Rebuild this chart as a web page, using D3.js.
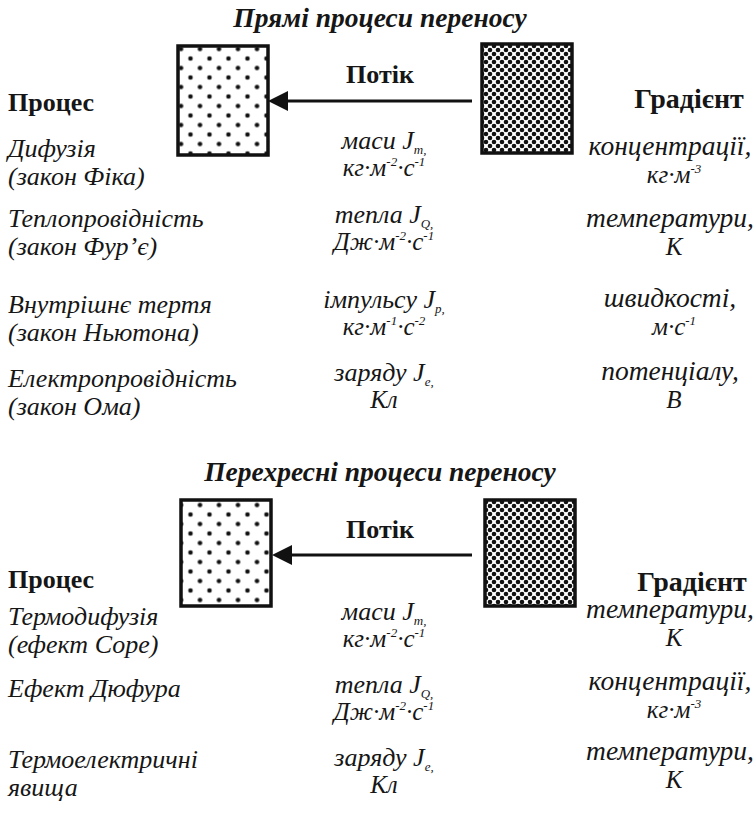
<!DOCTYPE html>
<html><head><meta charset="utf-8">
<script src="https://cdn.jsdelivr.net/npm/d3@7"></script>
<style>
html,body{margin:0;padding:0;background:#fff;}
svg{display:block;}
</style></head>
<body>
<script>
// ---------- DATA ----------
const sectionTitles = ["Прямі процеси переносу", "Перехресні процеси переносу"];
const headerProcess = "Процес";
const headerFlux = "Потік";
const headerGradient = "Градієнт";

// direct transfer processes
const directProcessLine1 = ["Дифузія", "Теплопровідність", "Внутрішнє тертя", "Електропровідність"];
const directProcessLine2 = ["(закон Фіка)", "(закон Фур’є)", "(закон Ньютона)", "(закон Ома)"];
const directFluxWord = ["маси", "тепла", "імпульсу", "заряду"];
const directFluxSub = ["m,", "Q,", "p,", "e,"];
const directFluxUnit = ["кг·м^-2·с^-1", "Дж·м^-2·с^-1", "кг·м^-1·с^-2", "Кл"];
const directGradWord = ["концентрації,", "температури,", "швидкості,", "потенціалу,"];
const directGradUnit = ["кг·м^-3", "К", "м·с^-1", "В"];

// cross transfer processes
const crossProcessLine1 = ["Термодифузія", "Ефект Дюфура", "Термоелектричні"];
const crossProcessLine2 = ["(ефект Соре)", "", "явища"];
const crossFluxWord = ["маси", "тепла", "заряду"];
const crossFluxSub = ["m,", "Q,", "e,"];
const crossFluxUnit = ["кг·м^-2·с^-1", "Дж·м^-2·с^-1", "Кл"];
const crossGradWord = ["температури,", "концентрації,", "температури,"];
const crossGradUnit = ["К", "кг·м^-3", "К"];

// ---------- LAYOUT ----------
const W = 756, H = 816;
const INK = "#161616";
const svg = d3.select("body").append("svg").attr("width", W).attr("height", H)
  .attr("font-family", "Liberation Serif").attr("fill", INK);

const defs = svg.append("defs");
// sparse (low concentration) dot pattern
const pSparse = defs.append("pattern").attr("id", "sparse").attr("patternUnits", "userSpaceOnUse")
  .attr("width", 19).attr("height", 19).attr("x", 0.5).attr("y", 1.5);
[[0, 0], [9.5, 9.5], [19, 0], [0, 19], [19, 19]].forEach(([x, y]) =>
  pSparse.append("circle").attr("cx", x).attr("cy", y).attr("r", 2.3).attr("fill", "#111"));
// dense (high concentration) dot pattern
const pDense = defs.append("pattern").attr("id", "dense").attr("patternUnits", "userSpaceOnUse")
  .attr("width", 8).attr("height", 8).attr("x", 2).attr("y", 2);
[[0, 0], [4, 4], [8, 0], [0, 8], [8, 8]].forEach(([x, y]) =>
  pDense.append("circle").attr("cx", x).attr("cy", y).attr("r", 2.3).attr("fill", "#111"));

function rich(sel, str, size, supSize) {
  const parts = str.split(/(\^-?\d+)/).filter(s => s.length);
  let raised = false;
  parts.forEach(p => {
    if (p[0] === "^") {
      sel.append("tspan").attr("font-size", supSize).attr("dy", -10).text(p.slice(1));
      raised = true;
    } else {
      const t = sel.append("tspan").attr("font-size", size).text(p);
      if (raised) { t.attr("dy", 10); raised = false; }
    }
  });
}

const xLeft = 8, xMid = 384, xRight = 670;
const fsLeft = 26, fsMid = 26, fsUnit = 25, fsRight = 27.5, fsSmall = 13;

const sections = [
  {
    title: sectionTitles[0], titleY: 27,
    boxL: [178, 46, 90, 109], boxR: [482, 44, 90, 109], arrowY: 101, arrowX: [472, 268],
    fluxY: 83, procHeadY: 111, gradHeadX: 689, gradHeadY: 108,
    p1: directProcessLine1, p2: directProcessLine2, fw: directFluxWord, fs: directFluxSub, fu: directFluxUnit,
    gw: directGradWord, gu: directGradUnit,
    yLeft: [157, 227, 313, 387], yMid: [149, 223, 308, 381], yRight: [155, 227, 307, 380]
  },
  {
    title: sectionTitles[1], titleY: 481,
    boxL: [181, 500, 90, 106], boxR: [485, 500, 90, 106], arrowY: 555, arrowX: [472, 272],
    fluxY: 538, procHeadY: 588, gradHeadX: 692, gradHeadY: 591,
    p1: crossProcessLine1, p2: crossProcessLine2, fw: crossFluxWord, fs: crossFluxSub, fu: crossFluxUnit,
    gw: crossGradWord, gu: crossGradUnit,
    yLeft: [625, 697, 768], yMid: [620, 693, 766], yRight: [618, 690, 760]
  }
];

sections.forEach(s => {
  const g = svg.append("g");
  const idx = d3.range(s.p1.length);
  const yL = d3.scaleOrdinal().domain(idx).range(s.yLeft);
  const yM = d3.scaleOrdinal().domain(idx).range(s.yMid);
  const yR = d3.scaleOrdinal().domain(idx).range(s.yRight);

  g.append("text").attr("x", 380).attr("y", s.titleY).attr("text-anchor", "middle")
    .attr("font-size", 27.5).attr("font-weight", "bold").attr("font-style", "italic").text(s.title);

  // boxes
  g.append("rect").attr("x", s.boxL[0]).attr("y", s.boxL[1]).attr("width", s.boxL[2]).attr("height", s.boxL[3])
    .attr("fill", "url(#sparse)").attr("stroke", "#111").attr("stroke-width", 3.5);
  g.append("rect").attr("x", s.boxR[0]).attr("y", s.boxR[1]).attr("width", s.boxR[2]).attr("height", s.boxR[3])
    .attr("fill", "url(#dense)").attr("stroke", "#111").attr("stroke-width", 3.5);

  // arrow
  g.append("line").attr("x1", s.arrowX[0]).attr("y1", s.arrowY).attr("x2", s.arrowX[1] + 19).attr("y2", s.arrowY)
    .attr("stroke", "#111").attr("stroke-width", 3);
  g.append("path").attr("d", d3.line()([[s.arrowX[1], s.arrowY], [s.arrowX[1] + 20, s.arrowY - 10], [s.arrowX[1] + 20, s.arrowY + 10]]) + "Z")
    .attr("fill", "#111");

  g.append("text").attr("x", 380).attr("y", s.fluxY).attr("text-anchor", "middle")
    .attr("font-size", 26).attr("font-weight", "bold").text(headerFlux);
  g.append("text").attr("x", xLeft).attr("y", s.procHeadY)
    .attr("font-size", 26).attr("font-weight", "bold").text(headerProcess);
  g.append("text").attr("x", s.gradHeadX).attr("y", s.gradHeadY).attr("text-anchor", "middle")
    .attr("font-size", 28).attr("font-weight", "bold").text(headerGradient);

  idx.forEach(i => {
    // left
    g.append("text").attr("x", xLeft).attr("y", yL(i)).attr("font-size", fsLeft).attr("font-style", "italic").text(s.p1[i]);
    if (s.p2[i]) g.append("text").attr("x", xLeft).attr("y", yL(i) + 28).attr("font-size", fsLeft).attr("font-style", "italic").text(s.p2[i]);

    // middle
    const t1 = g.append("text").attr("x", xMid).attr("y", yM(i)).attr("text-anchor", "middle").attr("font-style", "italic");
    t1.append("tspan").attr("font-size", fsMid).text(s.fw[i] + " J");
    t1.append("tspan").attr("font-size", fsSmall).attr("dy", 5).text(s.fs[i]);
    const t2 = g.append("text").attr("x", xMid).attr("y", yM(i) + 27).attr("text-anchor", "middle").attr("font-style", "italic");
    rich(t2, s.fu[i], fsUnit, fsSmall);

    // right
    g.append("text").attr("x", xRight).attr("y", yR(i)).attr("text-anchor", "middle").attr("font-size", fsRight).attr("font-style", "italic").text(s.gw[i]);
    const t3 = g.append("text").attr("x", xRight + 4).attr("y", yR(i) + 28).attr("text-anchor", "middle").attr("font-style", "italic");
    rich(t3, s.gu[i], fsUnit, fsSmall);
  });
});
</script>
</body></html>
